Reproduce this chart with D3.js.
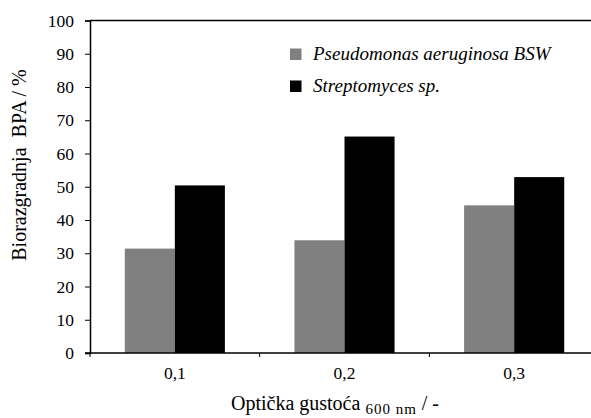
<!DOCTYPE html>
<html><head><meta charset="utf-8">
<script src="https://cdn.jsdelivr.net/npm/d3@7"></script>
<style>body{margin:0;background:#fff}svg text{font-family:"Liberation Serif","Times New Roman",Tinos,"DejaVu Serif",serif !important}</style>
</head><body><svg id="c" width="591" height="418"></svg>
<script>
const categories = ["0,1", "0,2", "0,3"];
const seriesNames = ["Pseudomonas aeruginosa BSW", "Streptomyces sp."];
const pseudomonas = [31.4, 33.9, 44.4];
const streptomyces = [50.4, 65.1, 52.9];
const yTicks = [0, 10, 20, 30, 40, 50, 60, 70, 80, 90, 100];
const colors = ["#808080", "#000000"];

const svg = d3.select("#c");
const m = {l: 90, t: 20.5, r: 599, b: 353};
const x = d3.scaleBand().domain(categories).range([m.l, m.r]).paddingInner(0.41).paddingOuter(0.205);
const x1 = d3.scaleBand().domain([0, 1]).range([0, x.bandwidth()]);
const y = d3.scaleLinear().domain([0, 100]).range([m.b, m.t]);
const series = [pseudomonas, streptomyces];

series.forEach((vals, s) => {
  svg.append("g").selectAll("rect").data(vals).join("rect")
    .attr("x", (d, i) => x(categories[i]) + x1(s))
    .attr("width", x1.bandwidth())
    .attr("y", d => y(d))
    .attr("height", d => y(0) - y(d))
    .attr("fill", colors[s]);
});

svg.append("line").attr("x1", m.l).attr("x2", 591).attr("y1", y(100)).attr("y2", y(100))
  .attr("stroke", "#000").attr("stroke-width", 1.5);

const ya = svg.append("g").attr("transform", `translate(${m.l},0)`)
  .call(d3.axisLeft(y).tickValues(yTicks).tickSize(5).tickPadding(11));
ya.select(".domain").attr("stroke-width", 1.5);
ya.selectAll("text").attr("font-size", 17.5).attr("fill", "#000");

const xBoundary = d3.scaleOrdinal().domain(categories).range(categories.map(c => x(c) - x.step() * x.paddingInner() / 2));
const xa = svg.append("g").attr("transform", `translate(0,${m.b})`)
  .call(d3.axisBottom(x).tickSize(0).tickPadding(14));
xa.select(".domain").remove();
xa.selectAll("text").attr("font-size", 17.5).attr("fill", "#000");
svg.append("line").attr("x1", m.l - 5).attr("x2", 591).attr("y1", m.b).attr("y2", m.b)
  .attr("stroke", "#000").attr("stroke-width", 1.5);
svg.append("g").selectAll("line").data(categories).join("line")
  .attr("x1", c => xBoundary(c)).attr("x2", c => xBoundary(c))
  .attr("y1", m.b).attr("y2", m.b + 4).attr("stroke", "#000");

svg.append("text").attr("transform", "translate(26,165) rotate(-90)")
  .attr("text-anchor", "middle").attr("font-size", 20).style("white-space", "pre")
  .text("Biorazgradnja  BPA / %");
const xt = svg.append("text").attr("x", 335).attr("y", 410).attr("text-anchor", "middle").attr("font-size", 20).style("white-space", "pre");
xt.append("tspan").text("Optička gustoća ");
xt.append("tspan").attr("font-size", 15).attr("letter-spacing", 1).attr("dy", 4).text("600 nm");
xt.append("tspan").attr("dy", -4).text(" / -");

const lg = svg.append("g");
seriesNames.forEach((n, i) => {
  lg.append("rect").attr("x", 290).attr("y", 48.5 + i * 32).attr("width", 11.5).attr("height", 11.5).attr("fill", colors[i]);
  lg.append("text").attr("x", 313).attr("y", 60 + i * 32).attr("font-size", 19).attr("font-style", "italic").text(n);
});
</script></body></html>
